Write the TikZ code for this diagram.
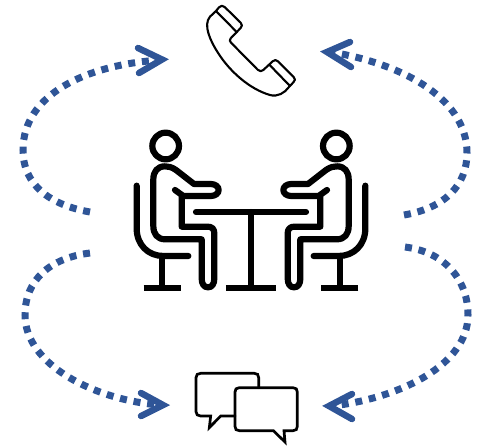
\documentclass[tikz,border=0pt]{standalone}
\definecolor{arrowblue}{HTML}{2F5597}
\tikzset{
  x=1pt,y=-1pt,
  flow/.style={draw=arrowblue,line width=7pt,dash pattern=on 7pt off 6.8pt},
  chevron/.style={draw=arrowblue,line width=6.5pt,line cap=round,line join=miter},
  figure/.style={draw=black,line width=6.2pt,line cap=round,line join=round},
  thin icon/.style={draw=black,line width=2.1pt,line cap=round,line join=round},
  chat icon/.style={draw=black,line width=2.7pt,line cap=round,line join=miter},
}
\begin{document}
\begin{tikzpicture}
\useasboundingbox (0,0) rectangle (486,445);
% person
\newcommand{\sitter}{%
  \draw[figure] (137,78) circle (40);
  \draw[figure] (165,210) -- (190,228) -- (272,228) .. controls (285,228) and (296,221) .. (296,210)
     .. controls (296,199) and (285,192) .. (272,192) -- (222,192) -- (168,150)
     .. controls (155,141) and (145,139) .. (135,139) .. controls (112,139) and (100,155) .. (100,178)
     -- (100,318) .. controls (100,342) and (112,358) .. (136,358) -- (245,358) -- (245,475)
     .. controls (245,492) and (252,502) .. (264,502) .. controls (276,502) and (283,492) .. (283,475)
     -- (283,340) .. controls (283,327) and (276,320) .. (263,320) -- (185,320) -- (185,228);
  \draw[figure] (50,197) -- (50,325) .. controls (50,375) and (85,408) .. (130,408) -- (205,408);
  \draw[figure] (127,408) -- (127,503);
  \draw[figure,line cap=butt] (71,503) -- (183,503);
}
\begin{scope}[shift={(120,120)},x=0.3333pt,y=-0.3333pt]
  \sitter
  \draw[figure] (228,276) -- (558,276);
  \draw[figure] (393,276) -- (393,503);
  \draw[figure,line cap=butt] (318,503) -- (468,503);
\end{scope}
\begin{scope}[shift={(382,120)},x=-0.3333pt,y=-0.3333pt]
  \sitter
\end{scope}
% phone
\begin{scope}[shift={(190,0)},x=0.3333pt,y=-0.3333pt]
  \draw[thin icon] (78,33) -- (87,22) .. controls (92,16) and (99,16) .. (104,21) -- (152,68)
    .. controls (157,74) and (157,79) .. (152,84) -- (122,115) .. controls (118,120) and (119,124) .. (123,128)
    -- (203,209) .. controls (209,215) and (215,215) .. (220,210) -- (248,184)
    .. controls (253,179) and (259,179) .. (264,184) -- (311,231) .. controls (316,236) and (316,242) .. (311,246)
    -- (296,262) .. controls (285,278) and (262,292) .. (240,285)
    .. controls (180,268) and (120,215) .. (85,160) .. controls (62,125) and (38,75) .. (60,50) -- cycle;
  \draw[thin icon] (78,33) -- (140,96);
  \draw[thin icon] (238,194) -- (300,258);
\end{scope}
% chat
\begin{scope}[shift={(180,360)},x=0.3333pt,y=-0.3333pt]
  \draw[chat icon] (165,168) -- (122,168) -- (88,203) -- (92,168) -- (62,168)
    .. controls (53,168) and (48,163) .. (48,155) -- (48,53) .. controls (48,44) and (53,40) .. (62,40)
    -- (223,40) .. controls (232,40) and (236,44) .. (236,53) -- (236,83);
  \draw[chat icon] (178,83) -- (339,83) .. controls (348,83) and (352,88) .. (352,96) -- (352,199)
    .. controls (352,208) and (348,212) .. (339,212) -- (312,212) -- (315,246) -- (280,212) -- (178,212)
    .. controls (169,212) and (165,208) .. (165,199) -- (165,96) .. controls (165,88) and (169,83) .. (178,83) -- cycle;
\end{scope}
% connector ends
\coordinate (meetTL) at (90,212);
\coordinate (meetTR) at (404,215);
\coordinate (meetBL) at (90,253);
\coordinate (meetBR) at (405,247);
\coordinate (phoneL) at (160,60);
\coordinate (phoneR) at (330,52);
\coordinate (chatL) at (160,405);
\coordinate (chatR) at (332,406);
% dotted connectors
\draw[flow] (meetTL) .. controls (50,205) and (23,185) .. (23,150)
   .. controls (23,95) and (85,65) .. (phoneL);
\draw[flow] (meetTR) .. controls (445,208) and (467,185) .. (467,153)
   .. controls (467,95) and (395,62) .. (phoneR);
\draw[flow] (meetBL) .. controls (50,258) and (25,280) .. (25,315)
   .. controls (25,365) and (95,400) .. (chatL);
\draw[flow] (meetBR) .. controls (445,252) and (468,280) .. (468,315)
   .. controls (468,365) and (400,398) .. (chatR);
% chevrons
\draw[chevron] (138,48) -- (162,59.5) -- (139,73);
\draw[chevron] (350,42) -- (327,52) -- (351,67);
\draw[chevron] (141,393) -- (163,405) -- (141,416);
\draw[chevron] (352,394) -- (329,406) -- (352,419);
\end{tikzpicture}
\end{document}
